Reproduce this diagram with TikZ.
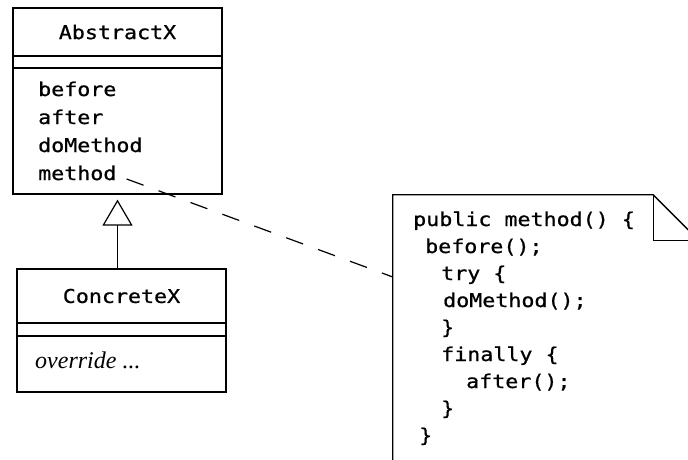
\documentclass[tikz,border=0pt]{standalone}
\usepackage{fontspec}
\setmainfont{Liberation Serif}
\newfontfamily\codefont[FakeStretch=1.14, FakeBold=0.8]{DejaVu Sans Mono}
\usetikzlibrary{arrows.meta,calc}

\tikzset{
  codefont/.style={font=\fontsize{19}{22}\selectfont\codefont},
  umlbox/.style={draw, line width=1.2pt, inner sep=0pt, minimum width=209pt},
  code/.style={anchor=base west, inner sep=0pt, codefont},
  comment/.style={draw, line width=1.3pt},
  notelink/.style={line width=1.2pt, dash pattern=on 18pt off 16pt},
  inherit/.style={line width=1.2pt, -{Triangle[open, length=26pt, width=30pt, line width=1.2pt]}}
}

\begin{document}
\begin{tikzpicture}[x=1pt, y=-1pt]
\useasboundingbox (0,0) rectangle (688,459);
\clip (0,0) rectangle (688,459);

% abstract class with its three compartments
\node[umlbox, minimum height=48pt, codefont] (aname) at (117.5,32) {AbstractX};
\node[umlbox, minimum height=12pt] (aattr) at (117.5,62) {};
\node[umlbox, minimum height=126pt] (aops) at (117.5,131) {};
\node[code] (mbefore) at (38,96) {before};
\node[code] (mafter) at (38,124) {after};
\node[code] (mdo) at (38,152) {doMethod};
\node[code] (mmethod) at (38,180) {method};

% concrete subclass
\node[umlbox, minimum height=54pt, codefont] (cname) at (121.5,296) {ConcreteX};
\node[umlbox, minimum height=13pt] (cattr) at (121.5,329.5) {};
\node[umlbox, minimum height=56pt] (cops) at (121.5,364) {};
\node[anchor=base west, inner sep=0pt, font=\fontsize{24}{28}\selectfont\itshape] (over) at (35,368) {override ...};

% generalization
\draw[inherit] (cname.north -| aops.south) -- ($(aops.south)+(0,5)$);

% note with folded corner
\node[minimum width=306pt, minimum height=290pt, inner sep=0pt] (note) at (546,340) {};
\draw[comment] (note.south west) -- (note.north west)
  -- ($(note.north east)+(-46,0)$) -- ($(note.north east)+(0,46)$) -- (note.south east);
\draw[comment] ($(note.north east)+(-46,0)$) -- ($(note.north east)+(-46,46)$) -- ($(note.north east)+(0,46)$);

\node[code] (n1) at (413,226) {public method() \{};
\node[code] (n2) at (425,253) {before();};
\node[code] (n3) at (441,280) {try \{};
\node[code] (n4) at (443,307) {doMethod();};
\node[code] (n5) at (441,334) {\}};
\node[code] (n6) at (441,361) {finally \{};
\node[code] (n7) at (466,388) {after();};
\node[code] (n8) at (441,415) {\}};
\node[code] (n9) at (419,442) {\}};

% link from the operation to its note
\draw[notelink] ($(mmethod.base east)+(10,-1)$) -- ($(note.north west)!0.283!(note.south west)$);
\end{tikzpicture}
\end{document}
